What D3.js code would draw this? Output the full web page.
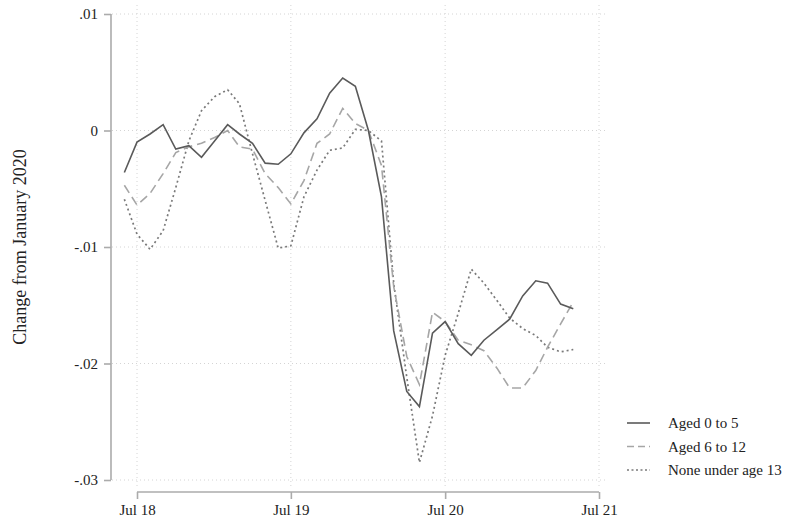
<!DOCTYPE html>
<html>
<head>
<meta charset="utf-8">
<script src="https://cdn.jsdelivr.net/npm/d3@7"></script>
<style>
  body { margin: 0; background: #fff; }
  svg { display: block; }
</style>
</head>
<body>
<div id="wrapper"></div>
<script>
// monthly series, Jun 2018 .. May 2021 (change from January 2020)
const startMonth = "2018-06";
const aged0to5 = [
  -0.0036, -0.0010, -0.0003, 0.0005, -0.0016, -0.0013, -0.0023, -0.0009, 0.0005, -0.0003, -0.0011, -0.0028,
  -0.0029, -0.0020, -0.0002, 0.0010, 0.0032, 0.0045, 0.0038, 0.0000, -0.0057, -0.0172, -0.0224, -0.0237,
  -0.0174, -0.0164, -0.0183, -0.0193, -0.0180, -0.0171, -0.0162, -0.0142, -0.0129, -0.0131, -0.0149, -0.0153
];
const aged6to12 = [
  -0.0047, -0.0064, -0.0054, -0.0037, -0.0019, -0.0014, -0.0011, -0.0006, 0.0000, -0.0014, -0.0016, -0.0037,
  -0.0049, -0.0063, -0.0043, -0.0011, -0.0003, 0.0019, 0.0006, 0.0000, -0.0030, -0.0134, -0.0194, -0.0218,
  -0.0156, -0.0164, -0.0180, -0.0184, -0.0189, -0.0204, -0.0221, -0.0221, -0.0206, -0.0186, -0.0166, -0.0147
];
const noneUnder13 = [
  -0.0059, -0.0089, -0.0102, -0.0086, -0.0049, -0.0009, 0.0017, 0.0029, 0.0035, 0.0023, -0.0020, -0.0060,
  -0.0101, -0.0099, -0.0057, -0.0034, -0.0017, -0.0015, 0.0001, 0.0000, -0.0009, -0.0131, -0.0212, -0.0285,
  -0.0245, -0.0193, -0.0157, -0.0119, -0.0131, -0.0146, -0.0161, -0.0170, -0.0176, -0.0186, -0.0190, -0.0188
];
const seriesNames = ["Aged 0 to 5", "Aged 6 to 12", "None under age 13"];
const yTicks = [0.01, 0, -0.01, -0.02, -0.03];
const yTickLabels = [".01", "0", "-.01", "-.02", "-.03"];
const xTicks = ["2018-07", "2019-07", "2020-07", "2021-07"];
const xTickLabels = ["Jul 18", "Jul 19", "Jul 20", "Jul 21"];

const parseMonth = d3.timeParse("%Y-%m");
const months = d3.timeMonth.range(parseMonth(startMonth), d3.timeMonth.offset(parseMonth(startMonth), aged0to5.length));

const width = 788;
const height = 527;
const serif = "'Liberation Serif', 'DejaVu Serif', serif";

const svg = d3.select("#wrapper").append("svg")
  .attr("width", width)
  .attr("height", height)
  .style("font-family", serif);

const xScale = d3.scaleTime()
  .domain([parseMonth("2018-07"), parseMonth("2021-07")])
  .range([137, 599]);
const yScale = d3.scaleLinear()
  .domain([-0.03, 0.01])
  .range([480, 14]);

// gridlines
svg.append("g").selectAll("line")
  .data(yTicks)
  .join("line")
  .attr("x1", 112).attr("x2", 608)
  .attr("y1", d => yScale(d)).attr("y2", d => yScale(d))
  .attr("stroke", "#d4d4d4")
  .attr("stroke-width", 1)
  .attr("stroke-dasharray", "1 3");
svg.append("g").selectAll("line")
  .data(xTicks)
  .join("line")
  .attr("x1", d => xScale(parseMonth(d))).attr("x2", d => xScale(parseMonth(d)))
  .attr("y1", 5).attr("y2", 488)
  .attr("stroke", "#d4d4d4")
  .attr("stroke-width", 1)
  .attr("stroke-dasharray", "1 3");

// y axis
const yAxis = svg.append("g")
  .attr("transform", "translate(111,0)")
  .call(d3.axisLeft(yScale).tickValues(yTicks).tickFormat((d, i) => yTickLabels[i]).tickSize(7).tickPadding(6));
yAxis.select(".domain").attr("d", `M0,${yScale(0.01)}V${yScale(-0.03)}`);

// x axis
const xAxis = svg.append("g")
  .attr("transform", "translate(0,492)")
  .call(d3.axisBottom(xScale).tickValues(xTicks.map(parseMonth)).tickFormat((d, i) => xTickLabels[i]).tickSize(7).tickPadding(5));
xAxis.select(".domain").attr("d", `M${xScale(parseMonth("2018-07"))},0H${xScale(parseMonth("2021-07"))}`);

[xAxis, yAxis].forEach(ax => ax.attr("font-family", serif).attr("font-size", 15));
svg.selectAll(".domain, .tick line")
  .attr("stroke", "#ababab")
  .attr("stroke-width", 1.6);
svg.selectAll(".tick text")
  .attr("fill", "#222");

// axis title
svg.append("text")
  .attr("transform", "translate(26,247) rotate(-90)")
  .attr("text-anchor", "middle")
  .attr("fill", "#222")
  .style("font-size", "18px")
  .text("Change from January 2020");

// lines
const styles = [
  { values: aged0to5, stroke: "#5a5a5a", dash: null, width: 1.6 },
  { values: aged6to12, stroke: "#a6a6a6", dash: "9 5", width: 1.6 },
  { values: noneUnder13, stroke: "#7a7a7a", dash: "2 3", width: 1.7 }
];
const lineGen = d3.line()
  .x((d, i) => xScale(months[i]))
  .y(d => yScale(d));

// draw dotted first so the solid line sits on top
[2, 1, 0].forEach(k => {
  const s = styles[k];
  svg.append("path")
    .datum(s.values)
    .attr("fill", "none")
    .attr("stroke", s.stroke)
    .attr("stroke-width", s.width)
    .attr("stroke-dasharray", s.dash)
    .attr("d", lineGen);
});

// legend
const legend = svg.append("g").attr("transform", "translate(627,423)");
seriesNames.forEach((name, i) => {
  const s = styles[i];
  const row = legend.append("g").attr("transform", `translate(0,${i * 23.5})`);
  row.append("line")
    .attr("x1", 0).attr("x2", 23)
    .attr("stroke", s.stroke)
    .attr("stroke-width", s.width)
    .attr("stroke-dasharray", s.dash ? (i === 1 ? "7 4" : "2 2.5") : null);
  row.append("text")
    .attr("x", 41)
    .attr("y", 5)
    .attr("fill", "#222")
    .style("font-size", "15px")
    .text(name);
});
</script>
</body>
</html>
